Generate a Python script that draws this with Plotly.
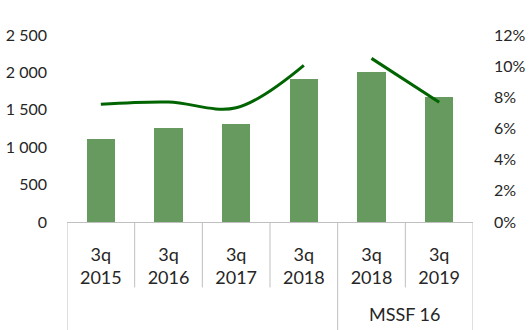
import plotly.graph_objects as go

# Quarterly figures (left axis) and ratio (right axis)
periods = ["3q<br>2015", "3q<br>2016", "3q<br>2017", "3q<br>2018", "3q<br>2018", "3q<br>2019"]
groups = ["", "", "", "", "MSSF 16", "MSSF 16"]
amounts = [1110, 1255, 1310, 1910, 2005, 1670]
ratios = [0.0755, 0.077, 0.0733, 0.1005, 0.105, 0.0768]

left_ticks = [0, 500, 1000, 1500, 2000, 2500]
right_ticks = [0, 0.02, 0.04, 0.06, 0.08, 0.10, 0.12]

BAR = "#669A5F"
LINE = "#006400"
GRID = "#BFBFBF"
TEXT = "#262626"
FONT = "Lato"

idx = list(range(len(periods)))

fig = go.Figure()
fig.add_trace(go.Bar(x=idx, y=amounts, width=0.42, marker=dict(color=BAR, line=dict(width=0)),
                     showlegend=False))

# ratio line is split where the reporting basis changes
for grp in dict.fromkeys(groups):
    pts = [i for i, g in enumerate(groups) if g == grp]
    fig.add_trace(go.Scatter(x=pts, y=[ratios[i] for i in pts], yaxis="y2", mode="lines",
                             line=dict(color=LINE, width=3, shape="spline", smoothing=1.0),
                             showlegend=False))

# category boundary lines below the axis; group edges run to the bottom
shapes = []
n = len(periods)
for b in range(n + 1):
    edge = b == 0 or b == n or groups[b] != groups[b - 1]
    shapes.append(dict(type="line", xref="x", yref="paper", x0=b - 0.5, x1=b - 0.5,
                       y0=0, y1=-0.62 if edge else -0.35,
                       line=dict(color=GRID, width=1)))

annotations = []
for grp in dict.fromkeys(groups):
    if not grp:
        continue
    pts = [i for i, g in enumerate(groups) if g == grp]
    annotations.append(dict(x=(pts[0] + pts[-1]) / 2, xref="x", y=-0.492, yref="paper",
                            text=grp, showarrow=False, yanchor="middle",
                            font=dict(family=FONT, size=18, color=TEXT)))

fig.update_layout(
    width=530, height=330,
    margin=dict(l=67, r=57, t=35, b=108),
    paper_bgcolor="white", plot_bgcolor="white",
    separators=", ",
    font=dict(family=FONT, size=16, color=TEXT),
    bargap=0,
    xaxis=dict(range=[-0.5, n - 0.5], tickvals=idx, ticktext=periods, showgrid=False,
               zeroline=False, showline=True, linecolor=GRID, linewidth=1, ticks="",
               automargin=False, ticklabelstandoff=16,
               tickfont=dict(family=FONT, size=18, color=TEXT)),
    yaxis=dict(range=[0, 2500], tickvals=left_ticks, tickformat=",d", showgrid=False,
               zeroline=False, showline=False, ticks="", automargin=False,
               ticklabelstandoff=19, tickfont=dict(family=FONT, size=16, color=TEXT)),
    yaxis2=dict(range=[0, 0.12], tickvals=right_ticks, tickformat=".0%", overlaying="y",
                side="right", showgrid=False, zeroline=False, showline=False, ticks="",
                automargin=False, ticklabelstandoff=20,
                tickfont=dict(family=FONT, size=16, color=TEXT)),
    shapes=shapes,
    annotations=annotations,
)

fig.write_html("out.html")
